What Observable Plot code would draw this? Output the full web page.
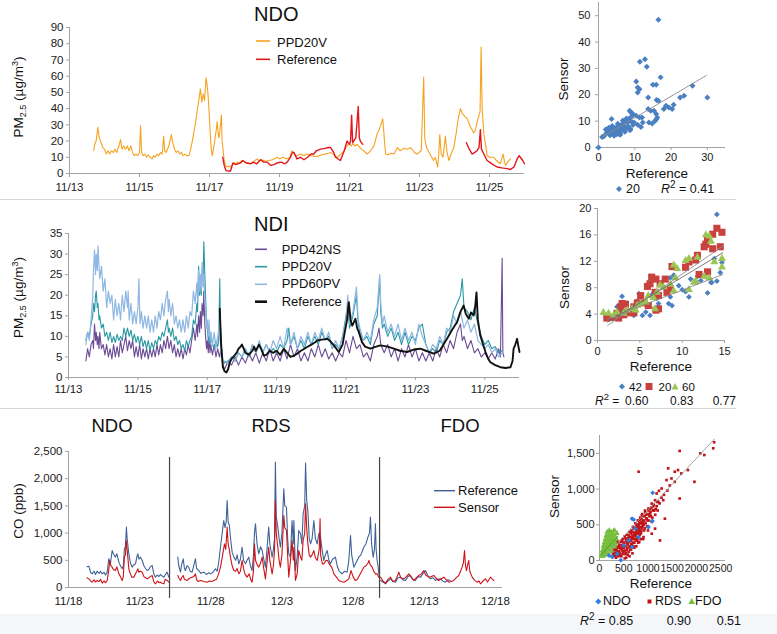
<!DOCTYPE html>
<html><head><meta charset="utf-8">
<script src="https://cdn.jsdelivr.net/npm/d3@7"></script>
<script src="https://cdn.jsdelivr.net/npm/@observablehq/plot@0.6"></script>
<style>
body{margin:0;background:#fff;}
#root{position:relative;width:777px;height:634px;overflow:hidden;background:#fff;font-family:"Liberation Sans",Arial,sans-serif;}
.chart{position:absolute;}
#overlay{position:absolute;left:0;top:0;}
</style></head><body>
<div id="root">
<div class="chart" id="ndoTs" style="left:0;top:0"></div>
<div class="chart" id="ndoSc" style="left:560px;top:0"></div>
<div class="chart" id="ndiTs" style="left:0;top:200px"></div>
<div class="chart" id="ndiSc" style="left:560px;top:200px"></div>
<div class="chart" id="coTs" style="left:0;top:400px"></div>
<div class="chart" id="coSc" style="left:560px;top:400px"></div>
<svg id="overlay" width="777" height="634" font-family="Liberation Sans, Arial, sans-serif" fill="#111">
  <rect x="0" y="614" width="777" height="20" fill="#f5f6f9"/>
  <line x1="0" x2="736" y1="199.5" y2="199.5" stroke="#d9d9d9"/>
  <line x1="0" x2="736" y1="408.5" y2="408.5" stroke="#d9d9d9"/>
  <!-- Panel A -->
  <text x="254" y="20.7" font-size="20">NDO</text>
  <line x1="256" x2="270" y1="41" y2="41" stroke="#f6a21e" stroke-width="1.6"/>
  <text x="277" y="46.5" font-size="13">PPD20V</text>
  <line x1="256" x2="270" y1="59.3" y2="59.3" stroke="#e3161b" stroke-width="1.6"/>
  <text x="277" y="64.3" font-size="13">Reference</text>
  <text transform="translate(23,97) rotate(-90)" text-anchor="middle" font-size="13.5">PM<tspan dy="3" font-size="9">2.5</tspan><tspan dy="-3"> (µg/m</tspan><tspan dy="-5" font-size="9">3</tspan><tspan dy="5">)</tspan></text>
  <text transform="translate(568,79) rotate(-90)" text-anchor="middle" font-size="13.5">Sensor</text>
  <text x="657" y="177.5" text-anchor="middle" font-size="13.5">Reference</text>
  <path d="M619,186 L622,189 L619,192 L616,189Z" fill="#4a7fc1"/>
  <text x="626" y="193" font-size="12.5">20</text>
  <text x="661" y="193" font-size="12.5"><tspan font-style="italic">R</tspan><tspan dy="-5" font-size="10">2</tspan><tspan dy="5"> = 0.41</tspan></text>
  <!-- Panel B -->
  <text x="254" y="231" font-size="20">NDI</text>
  <line x1="255" x2="267" y1="249.3" y2="249.3" stroke="#6a4b94" stroke-width="1.6"/>
  <line x1="255" x2="267" y1="266.7" y2="266.7" stroke="#2a98a4" stroke-width="1.6"/>
  <line x1="255" x2="267" y1="284.3" y2="284.3" stroke="#8fb7e3" stroke-width="1.6"/>
  <line x1="255" x2="267" y1="301.7" y2="301.7" stroke="#111" stroke-width="2.6"/>
  <text x="281.7" y="254.3" font-size="13">PPD42NS</text>
  <text x="281.7" y="271" font-size="13">PPD20V</text>
  <text x="281.7" y="288.3" font-size="13">PPD60PV</text>
  <text x="281.7" y="306" font-size="13">Reference</text>
  <text transform="translate(23,297.5) rotate(-90)" text-anchor="middle" font-size="13.5">PM<tspan dy="3" font-size="9">2.5</tspan><tspan dy="-3"> (µg/m</tspan><tspan dy="-5" font-size="9">3</tspan><tspan dy="5">)</tspan></text>
  <text transform="translate(569,287.5) rotate(-90)" text-anchor="middle" font-size="13.5">Sensor</text>
  <text x="661" y="371" text-anchor="middle" font-size="13.5">Reference</text>
  <path d="M622,383.5 L625,386.5 L622,389.5 L619,386.5Z" fill="#4a7fc1"/>
  <text x="629" y="390.5" font-size="11.5">42</text>
  <rect x="645.5" y="383" width="7" height="7" fill="#c9413f"/>
  <text x="658.5" y="390.5" font-size="11.5">20</text>
  <path d="M675,383 L678.5,389.5 L671.5,389.5Z" fill="#9cc554"/>
  <text x="682" y="390.5" font-size="11.5">60</text>
  <text x="595" y="404.5" font-size="12"><tspan font-style="italic">R</tspan><tspan dy="-5" font-size="9.5">2</tspan><tspan dy="5"> =</tspan></text>
  <text x="625" y="404.5" font-size="12">0.60</text>
  <text x="670" y="404.5" font-size="12">0.83</text>
  <text x="712.7" y="404.5" font-size="12">0.77</text>
  <!-- Panel C -->
  <text x="112" y="432.3" text-anchor="middle" font-size="18.5">NDO</text>
  <text x="271" y="432.3" text-anchor="middle" font-size="18.5">RDS</text>
  <text x="460" y="432.3" text-anchor="middle" font-size="18.5">FDO</text>
  <line x1="434" x2="455" y1="490.7" y2="490.7" stroke="#3f6399" stroke-width="1.4"/>
  <text x="458" y="495" font-size="13">Reference</text>
  <line x1="434" x2="455" y1="507.3" y2="507.3" stroke="#cc1318" stroke-width="1.4"/>
  <text x="458" y="511.7" font-size="13">Sensor</text>
  <text transform="translate(23,511) rotate(-90)" text-anchor="middle" font-size="13.5">CO (ppb)</text>
  <text transform="translate(559,496.5) rotate(-90)" text-anchor="middle" font-size="13.5">Sensor</text>
  <text x="661" y="588.3" text-anchor="middle" font-size="13.5">Reference</text>
  <path d="M598.3,598.5 L601.3,601.5 L598.3,604.5 L595.3,601.5Z" fill="#2d7fe0"/>
  <text x="603" y="605" font-size="12.5">NDO</text>
  <rect x="647.5" y="599.5" width="4" height="4" fill="#c0141a"/>
  <text x="655" y="605" font-size="12.5">RDS</text>
  <path d="M691.7,598 L695,604 L688.4,604Z" fill="#76bf3d"/>
  <text x="695" y="605" font-size="12.5">FDO</text>
  <text x="580" y="625" font-size="12.5"><tspan font-style="italic">R</tspan><tspan dy="-5" font-size="10">2</tspan><tspan dy="5"> = 0.85</tspan></text>
  <text x="666.7" y="625" font-size="12.5">0.90</text>
  <text x="716.7" y="625" font-size="12.5">0.51</text>
</svg>
</div>
<script>
// ---------- DATA ----------
// PM2.5 time axis (day of November)
const pmDayTicks = [13,15,17,19,21,23,25];
const pmDayLabels = ["11/13","11/15","11/17","11/19","11/21","11/23","11/25"];
const ndoYTicks = [0,10,20,30,40,50,60,70,80,90];
const ndiYTicks = [0,5,10,15,20,25,30,35];

// NDO PM2.5: [day, µg/m3]
const ndoPPD20V = [[13.69,14],[13.72,18],[13.76,20],[13.81,28.5],[13.85,22],[13.9,19],[13.95,16],[14.0,15],[14.05,12],[14.1,14],[14.15,12],[14.2,14],[14.25,13],[14.3,15],[14.35,13],[14.4,16],[14.46,21],[14.5,15],[14.55,17],[14.6,15],[14.65,17],[14.7,14],[14.75,17],[14.8,13],[14.85,11],[14.9,12],[14.95,11],[15.0,13],[15.03,29.5],[15.06,13],[15.1,11],[15.15,12],[15.2,10],[15.25,11.5],[15.3,10],[15.36,9],[15.4,11],[15.45,10],[15.5,12],[15.55,11],[15.6,13],[15.65,12],[15.69,23],[15.72,14],[15.76,13],[15.8,15],[15.84,17],[15.88,21],[15.91,24],[15.95,19],[16.0,15],[16.05,13],[16.1,14],[16.15,12],[16.2,13],[16.25,11],[16.3,12],[16.35,11],[16.41,11],[16.45,14],[16.51,20],[16.55,25],[16.6,31],[16.65,39],[16.7,46],[16.74,52],[16.78,44],[16.82,49],[16.86,45],[16.9,59],[16.93,55],[16.96,48],[16.99,38],[17.02,25],[17.05,15],[17.08,11],[17.12,16],[17.16,22],[17.2,28],[17.22,32],[17.25,24],[17.27,22],[17.3,27],[17.34,36],[17.36,20],[17.38,16],[17.42,8],[17.46,5],[17.5,4],[17.55,4.5],[17.6,4],[17.65,5.5],[17.7,6.5],[17.75,6],[17.8,7],[17.85,6.5],[17.9,7.5],[17.95,8],[18.0,7],[18.1,6.5],[18.2,6],[18.25,7],[18.3,8],[18.36,9],[18.4,8],[18.5,8.5],[18.6,7.5],[18.7,8],[18.8,8.5],[18.9,9.5],[18.93,10],[19.0,9],[19.1,10],[19.2,9],[19.3,10],[19.35,14],[19.41,13],[19.45,11],[19.5,11],[19.6,12],[19.7,11],[19.79,12],[19.9,11],[20.0,10.5],[20.08,10.5],[20.2,11.5],[20.3,12],[20.4,12.5],[20.46,13],[20.55,11.5],[20.65,10],[20.75,12],[20.84,14],[20.9,16],[20.98,18.3],[21.05,17],[21.1,18.5],[21.15,17],[21.22,18],[21.3,16],[21.4,14],[21.51,12],[21.6,14],[21.7,17],[21.79,24.5],[21.85,27],[21.95,33.7],[22.0,20],[22.03,12],[22.1,11.5],[22.2,12.5],[22.27,12],[22.37,16],[22.45,14],[22.55,15.5],[22.65,15],[22.75,16],[22.85,13],[22.93,12],[23.05,14],[23.12,59.4],[23.15,22],[23.2,16],[23.3,12],[23.4,8],[23.45,10],[23.52,4],[23.55,12],[23.58,24],[23.62,12],[23.67,10],[23.7,15],[23.74,23],[23.78,14],[23.84,8],[23.9,12],[23.98,16],[24.05,25],[24.1,33],[24.17,40],[24.22,37],[24.3,35],[24.36,34],[24.45,29],[24.55,25],[24.6,27],[24.65,32],[24.69,35],[24.73,38],[24.76,78],[24.79,40],[24.84,24],[24.9,16],[24.93,11],[25.0,10],[25.12,10],[25.2,8],[25.31,6],[25.35,9],[25.39,12],[25.43,7],[25.46,5],[25.52,7],[25.6,9]];
const ndoReference = [[17.38,10],[17.42,5],[17.47,1.8],[17.55,1.5],[17.6,1.5],[17.67,6.5],[17.75,5.5],[17.89,6.5],[17.95,8],[18.05,6.5],[18.17,6],[18.25,7],[18.35,6],[18.46,8.5],[18.55,7],[18.65,7],[18.75,5],[18.85,5.5],[18.93,6.5],[19.05,7],[19.15,6],[19.22,7],[19.31,10],[19.36,12.5],[19.41,13],[19.5,9],[19.6,10],[19.7,8.5],[19.8,10],[19.9,12],[19.98,12],[20.05,14],[20.17,15],[20.3,15.5],[20.4,16],[20.46,16],[20.55,13],[20.6,10],[20.74,8],[20.85,14],[20.93,20],[21.0,18],[21.03,20],[21.06,36],[21.09,19],[21.12,20],[21.18,22],[21.25,41.3],[21.28,22],[21.31,20],[21.38,18],[21.5,null],[24.34,19],[24.4,16],[24.5,12],[24.58,13],[24.64,14],[24.7,16],[24.74,27],[24.77,15],[24.84,12],[24.93,8],[25.0,7],[25.1,5.5],[25.22,4],[25.35,3.5],[25.5,3],[25.6,2.5],[25.7,4],[25.79,9],[25.85,11],[25.88,10],[25.95,8],[26.0,6]];

// NDO scatter: [reference, sensor]
const ndoScatter = [[0,0],[16.5,48.5],[12.8,33.5],[11.4,32.5],[13.3,30.6],[10.4,25],[17.1,26.6],[15.0,23.8],[15.9,23.8],[25.9,23.4],[10.8,22.8],[11.3,22.1],[10.8,20.9],[13.7,19.0],[16,18],[16.5,17.7],[22.5,19],[23.6,19.6],[30,19],[18,14.6],[18.6,15.8],[20.3,14.6],[20.7,16.2],[19.4,15.2],[13.7,14.6],[14.4,13.9],[15.3,13.9],[15.9,12.7],[16.2,11.4],[13.9,9.5],[14.8,9.1],[15.6,10.1],[15.9,10.6],[8.6,13.9],[9,13.3],[9.5,12.7],[10.4,12.0],[11.3,11.4],[12,11.4],[12.2,9.5],[10.8,8.6],[11.7,7.8],[3.6,10.8],[1.0,4.0],[1.5,4.3],[2.2,5.5],[2.5,6.5],[2.8,7.5],[3,5],[3.3,6],[3.5,7.8],[3.8,8.2],[4,5.5],[4.2,6.8],[4.5,7.2],[4.8,6],[5,5],[5.2,8],[5.5,6.5],[5.8,7.5],[6,5.5],[6.2,8.5],[6.5,7],[6.8,9],[7,6.5],[7.2,8],[7.5,10],[7.8,7.5],[8,9.5],[8.2,8],[8.5,11],[8.8,7],[9,10],[9.3,12],[9.5,8.5],[9.8,9.5],[6,4.8],[5.5,5.2],[7.3,6.0],[8.7,6.5],[4.3,4.5],[3.2,4.6],[6.7,10.2],[5.3,9],[7.7,11],[2,6.8]];
const ndoFit = [[0.9,3.9],[29.7,27.3]];

// NDI PM2.5: [day, µg/m3]
const ndiPPD42NS = [[13.5,4],[13.55,7],[13.6,5],[13.65,8],[13.7,9],[13.72,7],[13.75,13],[13.78,9],[13.8,11],[13.83,8],[13.85,10],[13.88,7],[13.9,11],[13.95,7],[14.0,8],[14.05,5.5],[14.1,8],[14.15,5],[14.2,7],[14.25,4.5],[14.3,8],[14.35,5],[14.4,7.5],[14.45,5],[14.5,9],[14.55,6],[14.6,8],[14.65,10],[14.7,6.5],[14.75,9],[14.8,7],[14.85,9],[14.9,5],[14.95,7.5],[15.0,5],[15.05,8],[15.1,4.5],[15.15,7],[15.2,5],[15.25,7],[15.3,4.5],[15.35,7],[15.4,5],[15.45,7],[15.5,5],[15.55,8],[15.6,5.5],[15.65,8],[15.7,6],[15.75,9],[15.8,7],[15.85,10],[15.9,7],[15.95,9],[16.0,6],[16.05,8],[16.1,5],[16.15,7],[16.2,5],[16.25,7],[16.3,4.5],[16.35,7],[16.4,5.5],[16.45,8],[16.5,6],[16.55,9],[16.6,12],[16.65,9],[16.7,13],[16.72,10],[16.75,15],[16.78,11],[16.8,16],[16.83,12],[16.85,18],[16.88,15],[16.9,21],[16.93,13],[16.95,10],[16.98,7],[17.0,9],[17.03,6],[17.05,10],[17.08,6],[17.1,8],[17.15,5.5],[17.2,8],[17.25,5],[17.3,7],[17.35,5],[17.4,7],[17.45,3],[17.5,2],[17.6,4],[17.7,3],[17.8,5],[17.9,3],[18.0,5],[18.1,3.5],[18.2,6],[18.3,4],[18.4,6],[18.5,3.5],[18.6,6],[18.7,4],[18.8,7],[18.9,4],[19.0,6],[19.1,4],[19.2,7],[19.3,4.5],[19.4,8],[19.5,5],[19.6,7],[19.7,4],[19.8,6],[19.9,4],[20.0,7],[20.1,5],[20.2,8],[20.3,5],[20.4,7],[20.5,4.5],[20.6,6],[20.7,4],[20.8,6],[20.9,5],[21.0,9],[21.1,6],[21.2,10],[21.3,7],[21.4,8],[21.5,5],[21.6,6],[21.7,4],[21.8,8],[21.9,10],[21.95,12],[22.0,8],[22.1,6],[22.2,8],[22.3,5],[22.4,7],[22.5,4],[22.6,7],[22.7,5],[22.8,8],[22.9,5],[23.0,7],[23.1,4],[23.2,6],[23.3,4],[23.4,6],[23.5,4],[23.6,7],[23.7,5],[23.8,8],[23.9,6],[24.0,9],[24.1,7],[24.2,11],[24.3,13],[24.35,9],[24.4,10],[24.5,7],[24.6,9],[24.7,6],[24.8,7],[24.9,5],[25.0,6],[25.1,4.5],[25.2,6],[25.3,4.5],[25.4,7],[25.45,5],[25.5,29],[25.52,6],[25.55,5]];
const ndiPPD20V = [[13.5,9],[13.55,11],[13.6,10],[13.65,13],[13.7,15],[13.72,18],[13.75,16],[13.78,20],[13.8,21],[13.83,17],[13.85,18],[13.88,14],[13.9,15],[13.95,12],[14.0,13],[14.05,10],[14.1,11],[14.15,9],[14.2,11],[14.25,8.5],[14.3,10],[14.35,8.5],[14.4,10.5],[14.45,9],[14.5,10],[14.55,9],[14.6,12],[14.65,10],[14.7,12],[14.75,10],[14.8,11.5],[14.85,9],[14.9,10.5],[14.95,8.5],[15.0,10],[15.05,8],[15.1,10],[15.15,7.5],[15.2,9],[15.25,7],[15.3,9],[15.35,6.5],[15.4,8.5],[15.45,7],[15.5,9],[15.55,8],[15.6,10],[15.65,9],[15.7,11],[15.75,10],[15.8,12],[15.85,14],[15.88,11],[15.9,12],[15.95,10],[16.0,12],[16.05,9],[16.1,10],[16.15,8],[16.2,9],[16.25,7],[16.3,8],[16.35,6.5],[16.4,9],[16.45,7.5],[16.5,9],[16.55,10],[16.6,14],[16.65,13],[16.7,18],[16.72,16],[16.75,27],[16.78,20],[16.8,23],[16.83,20],[16.85,26],[16.88,24],[16.9,33],[16.93,25],[16.95,20],[16.98,13],[17.0,12],[17.03,9],[17.05,10],[17.08,8],[17.1,11],[17.15,8],[17.2,7],[17.25,9],[17.3,7.5],[17.33,9],[17.36,24],[17.38,12],[17.4,8],[17.45,4],[17.5,3.5],[17.6,4],[17.7,5],[17.8,4],[17.9,6],[18.0,5],[18.1,7],[18.2,5],[18.3,8],[18.4,6],[18.5,8],[18.6,6],[18.7,8],[18.8,6],[18.9,7],[19.0,6],[19.1,8],[19.2,7],[19.3,9],[19.35,12],[19.4,8],[19.5,10],[19.6,7],[19.7,9],[19.8,7],[19.9,10],[20.0,8],[20.1,10],[20.2,8],[20.3,11],[20.4,9],[20.5,10],[20.6,7],[20.7,8],[20.8,7],[20.9,10],[21.0,15],[21.05,18],[21.1,12],[21.2,15],[21.3,20],[21.35,13],[21.4,11],[21.5,9],[21.6,10],[21.7,8],[21.8,13],[21.9,15],[21.97,24],[22.0,16],[22.05,12],[22.1,13],[22.2,10],[22.3,12],[22.4,9],[22.5,11],[22.6,8],[22.7,11],[22.8,8],[22.9,10],[23.0,9],[23.1,12],[23.2,13],[23.3,8],[23.4,6],[23.5,7],[23.6,6],[23.7,9],[23.8,8],[23.9,11],[24.0,12],[24.1,16],[24.2,18],[24.3,20],[24.35,24],[24.4,17],[24.5,16],[24.6,14],[24.7,17],[24.8,13],[24.9,10],[25.0,8],[25.1,9],[25.2,7],[25.3,7.5],[25.4,6],[25.5,6.5]];
const ndiPPD60PV = [[13.5,8],[13.55,11],[13.6,9],[13.65,14],[13.7,20],[13.72,26],[13.75,31],[13.78,25],[13.8,30],[13.83,26],[13.85,32],[13.88,27],[13.9,24],[13.95,27],[14.0,21],[14.05,24],[14.1,17],[14.15,21],[14.2,18],[14.25,20],[14.3,14],[14.35,19],[14.4,15],[14.45,18],[14.5,14],[14.55,20],[14.6,16],[14.65,21],[14.7,17],[14.72,21],[14.75,14],[14.8,18],[14.85,13],[14.9,16],[14.95,13],[15.0,17],[15.03,24],[15.06,13],[15.1,16],[15.15,12],[15.2,15],[15.25,12],[15.3,15],[15.35,11],[15.4,14],[15.45,11],[15.5,15],[15.55,12],[15.6,16],[15.65,14],[15.7,18],[15.75,15],[15.8,19],[15.85,21],[15.88,16],[15.9,19],[15.95,15],[16.0,18],[16.05,13],[16.1,15],[16.15,12],[16.2,14],[16.25,11],[16.3,14],[16.35,11],[16.4,15],[16.45,12],[16.5,16],[16.55,15],[16.6,21],[16.65,18],[16.7,23],[16.72,19],[16.75,26],[16.78,21],[16.8,25],[16.83,21],[16.85,28],[16.88,22],[16.9,25],[16.93,19],[16.95,17],[16.98,12],[17.0,14],[17.03,10],[17.05,14],[17.08,9],[17.1,11],[17.15,8],[17.2,11],[17.25,7],[17.3,10],[17.35,12],[17.38,8],[17.4,5],[17.45,3.5],[17.5,4],[17.6,3.5],[17.7,5],[17.8,4],[17.9,6],[18.0,5],[18.1,7],[18.2,5],[18.3,8],[18.4,6],[18.5,9],[18.6,6],[18.7,8],[18.8,6],[18.9,9],[19.0,7],[19.1,10],[19.2,7],[19.3,12],[19.4,8],[19.5,11],[19.6,7],[19.7,10],[19.8,8],[19.9,11],[20.0,8],[20.1,11],[20.2,9],[20.3,12],[20.4,9],[20.5,11],[20.6,7],[20.7,9],[20.8,7],[20.9,10],[21.0,14],[21.05,20],[21.1,13],[21.2,16],[21.3,22],[21.35,14],[21.4,12],[21.5,9],[21.6,11],[21.7,9],[21.8,14],[21.9,17],[21.97,25],[22.0,18],[22.05,13],[22.1,15],[22.2,11],[22.3,13],[22.4,10],[22.5,13],[22.6,9],[22.7,12],[22.8,9],[22.9,11],[23.0,8],[23.1,13],[23.2,10],[23.3,8],[23.4,6],[23.5,8],[23.6,7],[23.7,10],[23.8,8],[23.9,12],[24.0,11],[24.1,15],[24.2,13],[24.3,16],[24.4,12],[24.5,14],[24.6,11],[24.7,13],[24.8,9],[24.9,8],[25.0,7],[25.1,8],[25.2,6],[25.3,7],[25.4,5],[25.5,6]];
const ndiReference = [[17.36,16.7],[17.4,8],[17.45,2.5],[17.5,1.5],[17.55,1.2],[17.6,2],[17.65,3.7],[17.7,4.5],[17.8,5.5],[17.86,6.2],[17.9,7],[17.96,7.5],[18.0,8],[18.05,7],[18.1,6],[18.2,5.5],[18.3,6.5],[18.35,7.5],[18.4,6.5],[18.49,8],[18.55,7],[18.63,5.3],[18.7,5.5],[18.8,6.5],[18.9,6],[19.0,6.5],[19.1,5.5],[19.21,7],[19.3,6],[19.4,5],[19.5,5.3],[19.59,5.8],[19.7,6.5],[19.8,7],[19.88,7.4],[20.0,8],[20.1,8.5],[20.17,9],[20.3,9.2],[20.46,9.4],[20.55,8.8],[20.65,7.8],[20.79,6.2],[20.9,8],[20.98,11.8],[21.03,14],[21.08,18.3],[21.13,14],[21.18,12.6],[21.23,13.5],[21.27,14.3],[21.32,12],[21.37,11],[21.46,8.6],[21.55,7.5],[21.7,7],[21.8,7.3],[21.99,7.8],[22.2,7.5],[22.38,7],[22.55,6.5],[22.76,6.2],[22.95,6.8],[23.14,7],[23.3,6.5],[23.53,5.8],[23.7,6.5],[23.91,9.4],[24.05,11.5],[24.2,13.5],[24.3,16],[24.39,17.5],[24.45,15.5],[24.54,14.3],[24.6,15.8],[24.68,15.1],[24.72,17],[24.76,20.7],[24.8,14],[24.87,10.2],[24.95,8],[25.02,6.2],[25.1,4.5],[25.16,3.7],[25.3,3],[25.45,2.5],[25.6,2.3],[25.74,2.5],[25.8,4],[25.83,7],[25.88,8],[25.93,9.4],[25.97,7.5],[26.0,6.2]];

// NDI scatter: [reference, sensor]
const ndiScatter42 = [[14.1,19.1],[14.7,11.8],[14.5,10.3],[13.8,12.4],[13.5,8.8],[13.4,8.8],[14.1,9.0],[13.0,7.2],[12.6,9.7],[11.8,9.7],[12.2,9.1],[11.7,8.8],[11,9.3],[10.8,6.6],[10.4,7.4],[10,7.7],[9.6,8.3],[8.8,5.3],[8.4,5.6],[8.6,6.6],[9,9.9],[8.6,9.5],[7.2,5.6],[7,6.4],[6.4,6.9],[6.2,3.8],[5.3,3.8],[5.7,4.3],[4.9,7.1],[4.7,6],[2.9,6.7],[2.3,5.1],[3.9,4.3],[3.5,4.1],[2.7,4.6],[4.3,3.8]];
const ndiScatter20 = [[14.1,17.0],[14.7,16.4],[12.8,14.6],[13,15.3],[12.6,14.2],[13.6,13.9],[14.5,14.2],[13.6,16.1],[11.8,12.9],[11.6,12.2],[10.8,11.9],[10.4,11.1],[8.8,11.2],[12,10],[13,10.4],[6.4,9.6],[6.9,9.3],[5.9,8.2],[6.2,8.6],[7.4,8.6],[8,9.3],[7.2,6.8],[6.8,7.3],[8.6,7.8],[7.2,4.8],[6.9,4.6],[6,5.3],[5.5,5.7],[5.1,6.8],[4.7,5.7],[4.3,5.1],[3.3,5.5],[2.9,5.6],[2.7,5.1],[3.5,4.3],[3.9,4.2],[4.3,4.2],[2.3,4.1],[1.7,3.5],[1.1,3.4],[2.5,3.4],[3.1,3.9],[8.2,7.3]];
const ndiScatter60 = [[12.8,16],[13.2,15.8],[13.4,15],[13.8,11.9],[14.7,12.4],[14.7,11.1],[13.2,9.5],[12.6,9.7],[11.8,12.6],[10.8,12.4],[10.4,12.1],[11.4,8.8],[11.6,9.0],[10.8,7.7],[9.4,10.9],[9,11.4],[9.2,9.5],[8.6,8.5],[9,7.5],[7.8,8.1],[7.4,8.4],[7,7.3],[6.6,6.5],[6,6.8],[5.7,5.8],[5.1,5.6],[4.7,5.3],[4.5,4.6],[4.1,4.8],[3.5,4.6],[3.1,4.1],[2.3,4.3],[1.3,4.1],[0.7,4.2],[1.9,3.8],[6.8,4.8]];
const ndiFit42 = [[1.2,3.3],[14.8,10.0]];
const ndiFit20 = [[1.2,2.3],[14.8,14.3]];
const ndiFit60 = [[1.2,2.8],[14.8,13.3]];

// CO time series (day counted from Nov 1, so 12/3 = 33): [day, ppb]
const coDayTicks = [18,23,28,33,38,43,48];
const coDayLabels = ["11/18","11/23","11/28","12/3","12/8","12/13","12/18"];
const coYTicks = [0,500,1000,1500,2000,2500];
const coSiteBreaks = [25.1, 39.86];
const coReference = [[19.3,380],[19.43,392],[19.55,280],[19.66,251],[19.8,300],[19.9,240],[20.01,300],[20.15,260],[20.25,300],[20.37,251],[20.5,280],[20.6,230],[20.72,282],[20.83,527],[20.95,450],[21.07,680],[21.15,620],[21.3,558],[21.4,620],[21.54,466],[21.65,400],[21.77,343],[21.85,400],[21.93,711],[22.0,750],[22.07,1109],[22.12,900],[22.24,619],[22.35,450],[22.47,374],[22.6,420],[22.71,435],[22.8,560],[22.87,619],[22.95,520],[23.05,560],[23.18,496],[23.3,400],[23.42,350],[23.53,312],[23.65,330],[23.75,380],[23.88,404],[24.0,250],[24.11,190],[24.25,230],[24.35,200],[24.46,239],[24.58,210],[24.7,190],[24.8,230],[24.93,282],[25.05,190],[25.1,null],
 [25.68,558],[25.75,400],[25.87,282],[25.95,420],[26.06,527],[26.15,350],[26.22,312],[26.33,400],[26.45,374],[26.55,300],[26.69,282],[26.8,400],[26.92,527],[27.0,350],[27.16,312],[27.3,260],[27.51,282],[27.7,240],[27.85,270],[27.98,251],[28.15,280],[28.33,343],[28.45,300],[28.55,450],[28.68,741],[28.8,1000],[28.91,1232],[29.0,1100],[29.08,1200],[29.15,1599],[29.22,1200],[29.3,1150],[29.38,925],[29.5,650],[29.62,558],[29.75,500],[29.85,600],[29.97,435],[30.08,520],[30.2,741],[30.3,500],[30.44,435],[30.55,500],[30.67,558],[30.78,400],[30.9,312],[31.0,600],[31.07,1000],[31.14,1170],[31.25,800],[31.37,619],[31.5,750],[31.61,680],[31.72,520],[31.84,374],[31.95,700],[32.07,1109],[32.15,800],[32.31,558],[32.4,700],[32.48,900],[32.54,2304],[32.6,1300],[32.71,1109],[32.8,900],[32.89,741],[33.0,1000],[33.13,1814],[33.2,1500],[33.32,1477],[33.4,900],[33.48,619],[33.6,558],[33.71,1232],[33.8,800],[33.84,1232],[33.95,312],[34.07,558],[34.18,1048],[34.31,987],[34.4,800],[34.49,1354],[34.6,1500],[34.66,2286],[34.74,1600],[34.82,1415],[34.92,900],[35.01,803],[35.12,900],[35.24,1232],[35.35,900],[35.48,803],[35.6,1000],[35.71,925],[35.82,700],[35.94,496],[36.05,600],[36.18,680],[36.3,500],[36.41,435],[36.55,520],[36.76,558],[36.88,400],[37.0,312],[37.1,280],[37.23,251],[37.4,300],[37.58,282],[37.7,500],[37.82,956],[37.9,600],[38.05,374],[38.2,450],[38.4,558],[38.55,600],[38.75,741],[38.9,800],[39.04,925],[39.15,1000],[39.22,1293],[39.3,800],[39.41,558],[39.5,700],[39.57,1170],[39.62,700],[39.69,496],[39.75,400],[39.81,251],[39.86,null],
 [39.93,129],[40.1,100],[40.28,67],[40.45,120],[40.63,159],[40.8,110],[40.98,98],[41.15,180],[41.33,190],[41.5,140],[41.68,129],[41.85,200],[42.03,221],[42.2,150],[42.38,129],[42.55,200],[42.74,190],[42.9,250],[43.09,312],[43.25,220],[43.44,159],[43.6,180],[43.79,129],[43.95,150],[44.14,159],[44.3,120],[44.49,98],[44.65,140],[44.84,129]];
const coSensor = [[19.3,180],[19.43,159],[19.55,120],[19.66,98],[19.8,140],[19.9,100],[20.01,129],[20.15,110],[20.25,150],[20.37,80],[20.5,120],[20.6,90],[20.72,129],[20.82,300],[20.9,496],[20.98,400],[21.07,374],[21.15,330],[21.3,312],[21.4,380],[21.54,251],[21.65,200],[21.77,129],[21.85,200],[21.93,558],[22.0,600],[22.05,864],[22.12,700],[22.24,343],[22.35,250],[22.45,190],[22.59,190],[22.7,250],[22.8,300],[22.87,343],[22.95,280],[23.05,300],[23.18,282],[23.3,200],[23.42,180],[23.53,159],[23.65,180],[23.75,200],[23.88,221],[24.0,100],[24.11,67],[24.25,120],[24.35,90],[24.46,98],[24.58,80],[24.7,67],[24.8,150],[24.93,129],[25.05,98],[25.1,null],
 [25.68,221],[25.75,180],[25.87,129],[25.95,180],[26.06,221],[26.15,150],[26.34,129],[26.5,170],[26.69,190],[26.8,200],[26.92,251],[27.0,150],[27.1,110],[27.27,129],[27.5,110],[27.74,98],[27.9,120],[28.05,110],[28.21,129],[28.4,150],[28.55,250],[28.68,374],[28.8,550],[28.96,803],[29.05,700],[29.15,1109],[29.22,800],[29.3,700],[29.38,558],[29.5,400],[29.62,312],[29.75,300],[29.85,350],[29.97,251],[30.08,300],[30.2,496],[30.3,350],[30.4,250],[30.55,190],[30.7,250],[30.8,150],[30.9,98],[31.0,300],[31.07,803],[31.14,500],[31.25,420],[31.37,374],[31.5,450],[31.61,558],[31.72,350],[31.84,159],[31.95,450],[32.07,741],[32.15,500],[32.31,251],[32.4,400],[32.48,700],[32.54,1599],[32.6,1000],[32.71,741],[32.8,500],[32.89,374],[33.0,600],[33.13,1324],[33.2,1100],[33.32,1048],[33.4,600],[33.48,190],[33.6,500],[33.71,864],[33.8,500],[33.84,741],[33.95,129],[34.07,251],[34.18,680],[34.31,558],[34.4,500],[34.49,864],[34.6,1000],[34.66,1538],[34.74,1100],[34.82,803],[34.92,600],[35.01,558],[35.12,600],[35.24,680],[35.35,550],[35.48,496],[35.62,700],[35.68,1262],[35.72,600],[35.84,435],[35.94,435],[36.1,500],[36.2,496],[36.35,420],[36.5,374],[36.65,250],[36.8,200],[37.0,129],[37.15,110],[37.35,98],[37.5,120],[37.7,159],[37.85,312],[38.0,200],[38.15,129],[38.3,150],[38.5,250],[38.75,374],[38.9,400],[39.05,450],[39.11,496],[39.2,420],[39.34,374],[39.45,300],[39.57,251],[39.7,250],[39.81,190],[39.86,null],
 [39.93,190],[40.1,120],[40.28,80],[40.45,150],[40.63,190],[40.8,110],[40.98,129],[41.1,200],[41.21,282],[41.35,180],[41.57,159],[41.75,200],[41.92,251],[42.1,180],[42.27,129],[42.45,180],[42.62,221],[42.8,250],[42.97,312],[43.1,230],[43.32,190],[43.5,200],[43.67,221],[43.85,170],[44.02,129],[44.2,160],[44.38,190],[44.55,140],[44.73,98],[44.9,110],[45.08,129],[45.25,180],[45.43,221],[45.55,300],[45.66,374],[45.75,450],[45.83,680],[45.9,400],[45.97,312],[46.05,420],[46.13,496],[46.2,300],[46.37,190],[46.55,130],[46.72,98],[46.85,120],[46.95,67],[47.1,110],[47.3,159],[47.45,100],[47.65,190],[47.8,150],[47.89,129]];

// CO scatter: [reference, sensor]
const coScatterRDS = [[2366,1656],[2346,1571],[1654,1534],[2081,1500],[2163,1477],[1959,1102],[1654,868],[1248,281],[807,1243],[1417,1290],[1553,1243],[1620,1266],[1688,1219],[1824,1266],[1383,1126],[1485,1149],[1553,1102],[1281,1008],[1180,938],[1227,975],[1146,844],[1214,821],[1078,797],[1315,844],[1010,727],[1112,704],[1044,657],[942,680],[875,633],[976,586],[1349,586],[908,516],[1010,469],[1146,446],[807,469],[739,375],[773,281],[908,328],[637,188],[1078,375],[300,60],[320,110],[340,40],[350,150],[360,90],[380,180],[390,60],[400,130],[410,220],[420,100],[430,170],[440,260],[450,60],[460,140],[470,210],[480,300],[490,120],[500,180],[510,250],[520,340],[530,90],[540,200],[550,280],[560,150],[570,360],[580,230],[590,310],[600,120],[610,260],[620,400],[630,190],[640,330],[650,280],[660,420],[670,220],[680,350],[690,470],[700,300],[710,390],[720,250],[730,440],[740,520],[750,340],[760,410],[770,480],[780,300],[790,560],[800,380],[810,450],[820,520],[830,360],[840,600],[850,470],[860,410],[870,540],[880,650],[890,480],[900,560],[920,420],[930,620],[940,700],[950,520],[970,590],[980,480],[1000,650],[1020,560],[1040,720],[1060,620],[1080,540],[1100,700],[1120,780],[1150,640],[1180,760],[1200,700],[580,80],[650,150],[720,180],[460,280],[380,260],[520,30],[620,60],[900,300],[1000,420],[760,200],[820,260],
 [260,50],[280,90],[310,150],[330,70],[370,120],[395,200],[415,70],[435,210],[455,170],[475,90],[495,250],[515,140],[535,310],[545,110],[565,240],[575,170],[595,260],[605,200],[615,330],[625,280],[635,150],[645,380],[655,230],[665,310],[675,400],[685,250],[695,330],[705,450],[715,350],[725,300],[735,380],[745,460],[755,280],[765,500],[775,380],[785,430],[795,320],[805,500],[815,400],[825,560],[835,430],[845,520],[855,380],[865,580],[875,450],[885,520],[895,620],[910,500],[925,560],[935,450],[960,640],[990,560],[1010,700],[1030,620],[1050,680],[1070,740],[1090,600],[1110,760],[1130,700],[1160,720],[1190,820],[1240,800],[1280,880],[1330,920],[1400,980],[1450,1050],[600,350],[700,200],[800,250],[550,40],[680,100],[850,300]];
const coScatterNDO = [[1098,947],[1092,553],[671,586],[705,572],[1010,469],[671,188],[440,5],[264,52],[366,94],[603,281],[807,328],[502,211],[197,70],[739,446]];
const coScatterFDO = [[50,80],[70,120],[90,150],[100,90],[120,200],[130,130],[150,180],[160,250],[170,100],[180,300],[190,220],[200,150],[210,350],[220,270],[230,190],[240,400],[250,320],[260,230],[270,160],[280,380],[290,290],[300,210],[310,420],[320,340],[330,260],[340,200],[350,300],[360,380],[80,60],[110,170],[140,220],[200,280],[260,350],[300,420],[150,120],[60,100],[250,120],[330,150],[190,330],[230,230],[40,60],[60,140],[80,200],[100,250],[120,300],[140,350],[160,400],[180,350],[100,180],[130,260],[170,200],[210,220],[240,280],[270,250],[280,300],[90,110],[110,80],[200,420],[230,330],[350,250]];
const coFit = [[130,70],[2370,1700]];
const coFitFDO = [[50,90],[380,340]];

// ---------- DRAWING ----------
const AX = "#a3a3a3";
const FONT = "Liberation Sans, Arial, sans-serif";
const pts = a => a.map(([x, y]) => ({x, y}));
const baseStyle = fs => ({background: "transparent", fontFamily: FONT, fontSize: fs, color: "#1a1a1a", overflow: "visible"});
const comma = d3.format(",");
const plain = d => String(d);

function frameAxes(x0, y0, xt, xf, yt, yf, o) {
  return [
    Plot.ruleY([y0], {stroke: AX}),
    Plot.ruleX([x0], {stroke: AX}),
    Plot.axisX({ticks: xt, tickFormat: xf, tickSize: o.xs, tickPadding: o.xp, stroke: AX, fill: "#1a1a1a", label: null, fontSize: o.xfs}),
    Plot.axisY({ticks: yt, tickFormat: yf, tickSize: o.ys, tickPadding: o.yp, stroke: AX, fill: "#1a1a1a", label: null})
  ];
}
const line = (data, stroke, w = 1) => Plot.line(pts(data), {x: "x", y: "y", stroke, strokeWidth: w, curve: "linear"});

// NDO time series
document.getElementById("ndoTs").append(Plot.plot({
  width: 560, height: 200, marginLeft: 69, marginRight: 36, marginTop: 27, marginBottom: 27,
  style: baseStyle("11.5px"),
  x: {domain: [13, 26], label: null}, y: {domain: [0, 90], label: null},
  marks: [
    ...frameAxes(13, 0, pmDayTicks, (d, i) => pmDayLabels[i], ndoYTicks, plain, {xs: 4, xp: 5, ys: 3, yp: 3}),
    line(ndoPPD20V, "#f6a21e", 1.1),
    line(ndoReference, "#e3161b", 1.4)
  ]
}));

// NDO scatter
document.getElementById("ndoSc").append(Plot.plot({
  width: 217, height: 200, marginLeft: 38, marginRight: 52, marginTop: 2, marginBottom: 53,
  style: baseStyle("11px"),
  x: {domain: [0, 35], label: null}, y: {domain: [0, 55], label: null},
  marks: [
    ...frameAxes(0, 0, [0, 10, 20, 30], plain, [0, 10, 20, 30, 40, 50], plain, {xs: 3, xp: 3, ys: 3, yp: 5}),
    Plot.dot(ndoScatter, {x: d => d[0], y: d => d[1], symbol: "diamond2", fill: "#4a7fc1", stroke: "none", r: 2.7}),
    Plot.line(ndoFit, {x: d => d[0], y: d => d[1], stroke: "#8a8a8a", strokeWidth: 0.9})
  ]
}));

// NDI time series
document.getElementById("ndiTs").append(Plot.plot({
  width: 560, height: 200, marginLeft: 68, marginRight: 41, marginTop: 33, marginBottom: 23,
  style: baseStyle("11.5px"),
  x: {domain: [13, 26], label: null}, y: {domain: [0, 35], label: null},
  marks: [
    ...frameAxes(13, 0, pmDayTicks, (d, i) => pmDayLabels[i], ndiYTicks, plain, {xs: 3, xp: 4, ys: 3, yp: 3}),
    line(ndiPPD42NS, "#6a4b94", 1.1),
    line(ndiPPD20V, "#2a98a4", 1.1),
    line(ndiPPD60PV, "#8fb7e3", 1.2),
    line(ndiReference, "#111111", 1.9)
  ]
}));

// NDI scatter
document.getElementById("ndiSc").append(Plot.plot({
  width: 217, height: 200, marginLeft: 37, marginRight: 53, marginTop: 8, marginBottom: 60,
  style: baseStyle("11px"),
  x: {domain: [0, 15], label: null}, y: {domain: [0, 20], label: null},
  marks: [
    ...frameAxes(0, 0, [0, 5, 10, 15], plain, [0, 4, 8, 12, 16, 20], plain, {xs: 3, xp: 3.5, ys: 3, yp: 3}),
    Plot.dot(ndiScatter42, {x: d => d[0], y: d => d[1], symbol: "diamond2", fill: "#4a7fc1", stroke: "none", r: 2.6}),
    Plot.dot(ndiScatter20, {x: d => d[0], y: d => d[1], symbol: "square", fill: "#c9413f", stroke: "none", r: 4}),
    Plot.dot(ndiScatter60, {x: d => d[0], y: d => d[1], symbol: "triangle", fill: "#9cc554", stroke: "none", r: 3}),
    Plot.line(ndiFit42, {x: d => d[0], y: d => d[1], stroke: "#8a8a8a", strokeWidth: 0.9}),
    Plot.line(ndiFit20, {x: d => d[0], y: d => d[1], stroke: "#8a8a8a", strokeWidth: 0.9}),
    Plot.line(ndiFit60, {x: d => d[0], y: d => d[1], stroke: "#6a6a6a", strokeWidth: 0.9})
  ]
}));

// CO time series
document.getElementById("coTs").append(Plot.plot({
  width: 560, height: 214, marginLeft: 68, marginRight: 58, marginTop: 51, marginBottom: 27,
  style: baseStyle("11.5px"),
  x: {domain: [18, 48.5], label: null}, y: {domain: [0, 2500], label: null},
  marks: [
    ...frameAxes(18, 0, coDayTicks, (d, i) => coDayLabels[i], coYTicks, comma, {xs: 0, xp: 9, ys: 3, yp: 3}),
    line(coReference, "#3f6399", 1.1),
    line(coSensor, "#cc1318", 1.1),
    Plot.ruleX(coSiteBreaks, {y1: -200, y2: 2390, stroke: "#444", strokeWidth: 1.2})
  ]
}));

// CO scatter
document.getElementById("coSc").append(Plot.plot({
  width: 217, height: 234, marginLeft: 39, marginRight: 52, marginTop: 35, marginBottom: 74,
  style: baseStyle("11px"),
  x: {domain: [0, 2600], label: null}, y: {domain: [0, 1750], label: null},
  marks: [
    ...frameAxes(0, 0, [0, 500, 1000, 1500, 2000, 2500], plain, [0, 500, 1000, 1500], comma, {xs: 0, xp: 4, ys: 3, yp: 2, xfs: "10.5px"}),
    Plot.dot(coScatterFDO, {x: d => d[0], y: d => d[1], symbol: "triangle", fill: "#76bf3d", stroke: "none", r: 2.1}),
    Plot.dot(coScatterRDS, {x: d => d[0], y: d => d[1], symbol: "square", fill: "#c0141a", stroke: "none", r: 1.5}),
    Plot.dot(coScatterNDO, {x: d => d[0], y: d => d[1], symbol: "diamond2", fill: "#2d7fe0", stroke: "none", r: 2.2}),
    Plot.line(coFit, {x: d => d[0], y: d => d[1], stroke: "#9a9a9a", strokeWidth: 0.9}),
    Plot.line(coFitFDO, {x: d => d[0], y: d => d[1], stroke: "#4f8f2a", strokeWidth: 0.8})
  ]
}));
</script>
</body></html>
